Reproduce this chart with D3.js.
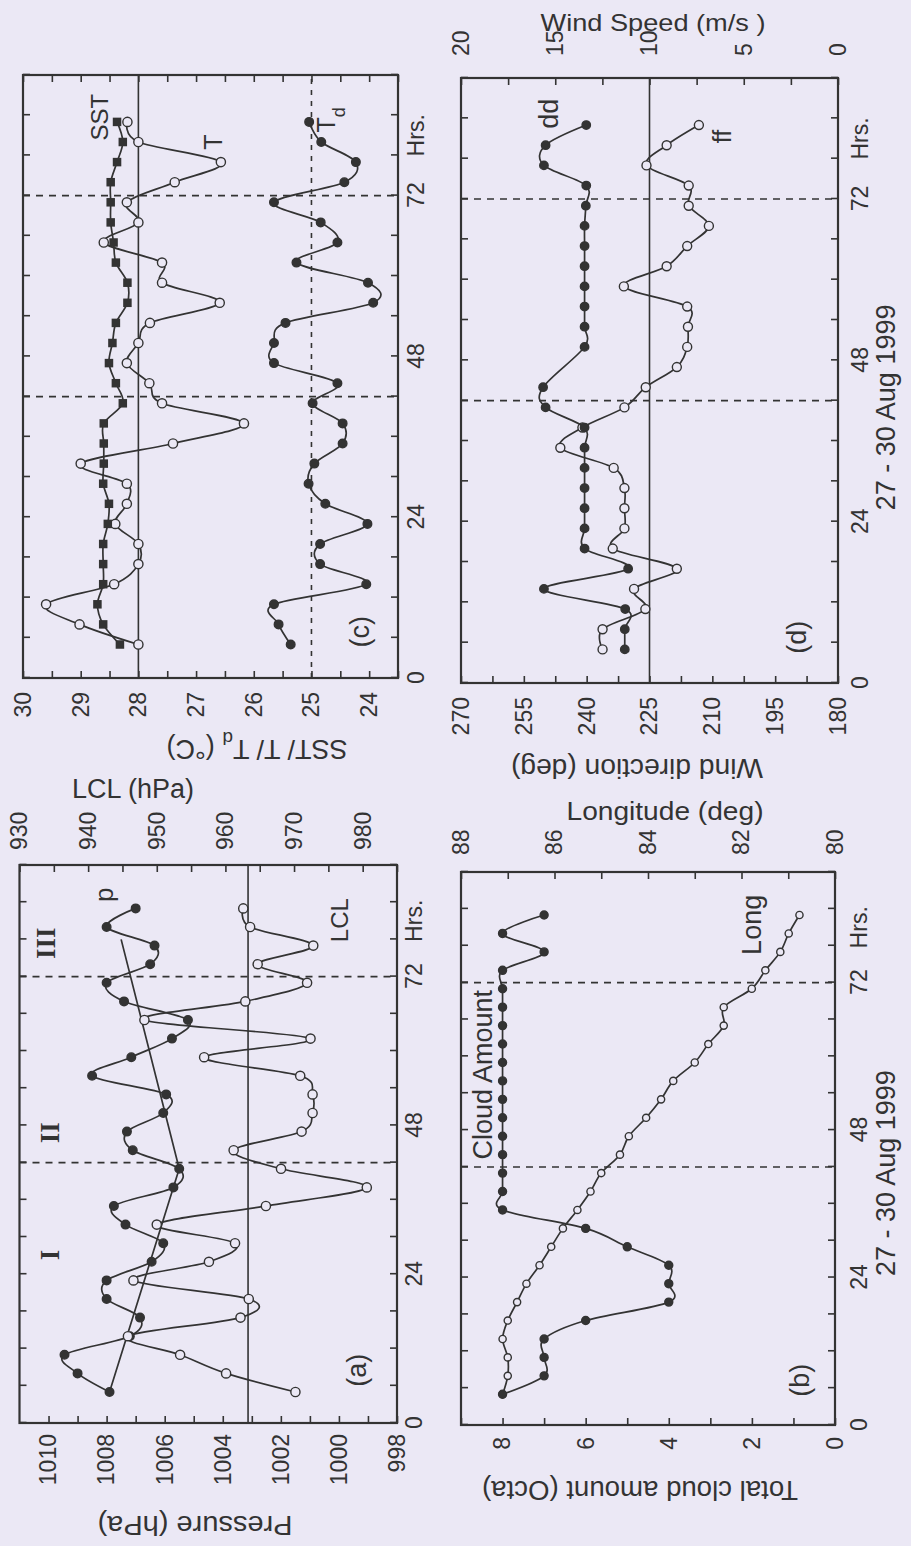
<!DOCTYPE html>
<html>
<head>
<meta charset="utf-8">
<script src="https://cdn.jsdelivr.net/npm/d3@7"></script>
<style>
  body { margin: 0; background: #ebe8f5; }
  svg { display: block; }
  text { font-family: "Liberation Sans", Arial, sans-serif; fill: #333; }
  .axis text { font-family: "Liberation Sans", Arial, sans-serif; font-size: 23px; fill: #333; }
  .axis line { stroke: #333; stroke-width: 1.6; }
  .axis .domain { display: none; }
</style>
</head>
<body>
<div id="chart"></div>
<script>
// 3-hourly observations, hours from the start of 27 Aug 1999
const hours = [5, 8, 11, 14, 17, 20, 23, 26, 29, 32, 35, 38, 41, 44, 47, 50, 53, 56, 59, 62, 65, 68, 71, 74, 77, 80, 83];

// (a) surface pressure and lifting condensation level (hPa)
const pressure = [1007.9, 1009.0, 1009.45, 1007.2, 1006.85, 1008.0, 1008.0, 1006.45, 1006.05, 1007.35, 1007.75, 1005.7, 1005.5,
  1007.1, 1007.3, 1006.05, 1005.95, 1008.5, 1007.15, 1005.75, 1005.2, 1007.4, 1008.0, 1006.5, 1006.35, 1008.0, 1007.0];
const lcl = [970.2, 960.1, 953.4, 945.8, 962.2, 963.4, 946.6, 957.6, 961.4, 950.0, 965.9, 980.6, 968.1,
  961.2, 971.1, 972.7, 972.7, 970.9, 956.9, 972.4, 948.2, 962.9, 971.9, 964.7, 972.8, 963.6, 962.6];
const trendHours = [5, 41, 78];
const trendPressure = [1007.9, 1005.5, 1007.5];
const lclMean = 963.3;

// (b) total cloud amount (octa) and ship longitude (deg E)
const cloud = [8, 7, 7, 7, 6, 4, 4, 4, 5, 6, 8, 8, 8, 8, 8, 8, 8, 8, 8, 8, 8, 8, 8, 8, 7, 8, 7];
const longitude = [87.11, 87.0, 87.0, 87.11, 87.0, 86.8, 86.6, 86.32, 86.07, 85.82, 85.51, 85.23, 85.0,
  84.6, 84.41, 84.04, 83.72, 83.46, 83.0, 82.71, 82.38, 82.38, 81.78, 81.49, 81.17, 80.99, 80.76];

// (c) SST, air temperature, dew point (deg C)
const sst = [28.32, 28.61, 28.71, 28.61, 28.61, 28.61, 28.53, 28.51, 28.61, 28.6, 28.6, 28.6, 28.27,
  28.39, 28.51, 28.45, 28.39, 28.19, 28.19, 28.39, 28.43, 28.48, 28.48, 28.48, 28.37, 28.27, 28.37];
const airTemp = [28.0, 29.02, 29.6, 28.42, 28.0, 28.0, 28.4, 28.2, 28.2, 29.0, 27.4, 26.17, 27.59,
  27.81, 28.2, 28.0, 27.8, 26.59, 27.59, 27.59, 28.6, 28.0, 28.2, 27.37, 26.57, 28.0, 28.19];
const dewPoint = [25.36, 25.57, 25.65, 24.05, 24.85, 24.85, 24.03, 24.76, 25.05, 24.95, 24.46, 24.46, 24.98,
  24.55, 25.65, 25.65, 25.45, 23.93, 24.02, 25.26, 24.55, 24.84, 25.65, 24.43, 24.23, 24.83, 25.04];
const tempRefs = [28, 25];

// (d) wind direction (deg) and wind speed (m/s)
const dirHours = [5, 8, 11, 14, 17, 20, 23, 26, 29, 32, 35, 38, 41, 44, 50, 53, 56, 59, 62, 65, 68, 71, 74, 77, 80, 83];
const windDir = [230.9, 230.9, 230.8, 250.2, 230.1, 240.5, 240.5, 240.5, 240.5, 240.5, 240.5, 240.5, 249.8,
  250.4, 240.5, 240.5, 240.5, 240.5, 240.5, 240.5, 240.5, 240.2, 240.1, 250.2, 249.8, 240.1];
const windSpeed = [12.49, 12.49, 10.22, 10.82, 8.55, 11.95, 11.33, 11.33, 11.33, 11.9, 14.73, 13.56, 11.33,
  10.2, 8.55, 8.0, 7.96, 8.0, 11.36, 9.09, 8.0, 6.85, 7.92, 7.92, 10.16, 9.09, 7.38];
const dirRef = 225;

// axes
const timeTicks = d3.range(0, 91, 6);
const timeLabels = [0, 24, 48, 72];
const markerHours = [42, 72];
const pressureTicks = d3.range(998, 1011, 1);
const lclTicks = d3.range(930, 986, 5);
const tempTicks = d3.range(23.5, 30.01, 0.5);
const dirTicks = d3.range(180, 270.1, 7.5);
const speedTicks = d3.range(0, 20.1, 2.5);
const cloudTicks = d3.range(0, 10, 1);
const lonTicks = d3.range(80, 89, 1);

const ink = "#333";
const paper = "#ebe8f5";
const tickLen = 7;
const smooth = d3.curveCardinal.tension(0);

// panel frames in the landscape layout (x = time direction)
const boxA = { x0: 123, x1: 681, y0: 19.5, y1: 397, pad: 9 };
const boxB = { x0: 121, x1: 674, y0: 461, y1: 835, pad: 16 };
const boxC = { x0: 868, x1: 1471, y0: 23, y1: 398, pad: 10 };
const boxD = { x0: 863, x1: 1468, y0: 461, y1: 838, pad: 14 };

const svg = d3.select("#chart").append("svg")
  .attr("width", 911)
  .attr("height", 1546);
svg.append("rect").attr("width", 911).attr("height", 1546).attr("fill", paper);

// figure is drawn landscape (1546 x 911) then turned a quarter turn anticlockwise
const fig = svg.append("g").attr("transform", "translate(0,1546) rotate(-90)");

const setupPanel = (p) => {
  const g = fig.append("g");
  const t = d3.scaleLinear().domain([0, 90]).range([p.x0, p.x1]);
  g.append("g").attr("class", "axis").attr("transform", `translate(0,${p.y1})`)
    .call(d3.axisBottom(t).tickValues(timeTicks).tickSize(-tickLen).tickPadding(p.pad)
      .tickFormat(d => timeLabels.includes(d) ? String(d) : ""));
  g.append("g").attr("class", "axis").attr("transform", `translate(0,${p.y0})`)
    .call(d3.axisTop(t).tickValues(timeTicks).tickSize(-tickLen).tickFormat(""));
  g.append("text")
    .attr("x", t(81)).attr("y", p.y1 + p.pad).attr("dy", "0.71em")
    .attr("text-anchor", "middle").style("font-size", "23px")
    .text("Hrs.");
  markerHours.forEach(h => {
    g.append("line")
      .attr("x1", t(h)).attr("x2", t(h)).attr("y1", p.y0).attr("y2", p.y1)
      .attr("stroke", ink).attr("stroke-width", 1.6).attr("stroke-dasharray", "7,6");
  });
  return { g, t };
};

const valueAxis = (g, p, scale, ticks, showLabel, side, pad) => {
  const make = side === "left" ? d3.axisLeft : d3.axisRight;
  g.append("g").attr("class", "axis")
    .attr("transform", `translate(${side === "left" ? p.x0 : p.x1},0)`)
    .call(make(scale).tickValues(ticks).tickSize(-tickLen).tickPadding(pad)
      .tickFormat(d => showLabel(d) ? String(d) : ""));
};

const refLine = (g, p, yPos, dash) => {
  g.append("line")
    .attr("x1", p.x0).attr("x2", p.x1).attr("y1", yPos).attr("y2", yPos)
    .attr("stroke", ink).attr("stroke-width", 1.6)
    .attr("stroke-dasharray", dash || null);
};

const drawSeries = (g, t, y, hrs, vals, kind, size, curve) => {
  const pts = hrs.map((h, i) => [t(h), y(vals[i])]);
  g.append("path")
    .attr("d", d3.line().curve(curve || smooth)(pts))
    .attr("fill", "none").attr("stroke", ink).attr("stroke-width", 1.7);
  if (kind === "none") return;
  if (kind === "square") {
    g.selectAll(null).data(pts).join("rect")
      .attr("x", d => d[0] - size / 2).attr("y", d => d[1] - size / 2)
      .attr("width", size).attr("height", size).attr("fill", ink);
  } else {
    g.selectAll(null).data(pts).join("circle")
      .attr("cx", d => d[0]).attr("cy", d => d[1]).attr("r", size)
      .attr("fill", kind === "dot" ? ink : paper)
      .attr("stroke", ink).attr("stroke-width", 1.4);
  }
};

const frame = (g, p) => {
  g.append("rect")
    .attr("x", p.x0).attr("y", p.y0).attr("width", p.x1 - p.x0).attr("height", p.y1 - p.y0)
    .attr("fill", "none").attr("stroke", ink).attr("stroke-width", 2.2);
};

const note = (g, x, y, txt, size, family, weight) => {
  return g.append("text")
    .attr("x", x).attr("y", y).attr("dy", "0.35em")
    .attr("text-anchor", "middle")
    .style("font-size", size + "px")
    .style("font-family", family || null)
    .style("font-weight", weight || null)
    .text(txt);
};

// axis titles; width is the measured length of the title on the page
const title = (x, y, angle, txt, size, width) => {
  const el = fig.append("text")
    .attr("transform", `translate(${x},${y}) rotate(${angle})`)
    .attr("dy", "0.35em").attr("text-anchor", "middle")
    .style("font-size", (size || 27) + "px")
    .text(txt);
  if (width) el.attr("textLength", width).attr("lengthAdjust", "spacingAndGlyphs");
  return el;
};

// ---- (a) pressure / LCL
{
  const { g, t } = setupPanel(boxA);
  const yP = d3.scaleLinear().domain([998, 1011]).range([boxA.y1, boxA.y0]);
  const yL = d3.scaleLinear().domain([930, 985]).range([boxA.y0, boxA.y1]);
  valueAxis(g, boxA, yP, pressureTicks, d => d % 2 === 0, "left", 11);
  valueAxis(g, boxA, yL, lclTicks, d => d % 10 === 0, "right", 15);
  refLine(g, boxA, yL(lclMean));
  drawSeries(g, t, yP, trendHours, trendPressure, "none", 0, d3.curveLinear);
  drawSeries(g, t, yP, hours, pressure, "dot", 4.3);
  drawSeries(g, t, yL, hours, lcl, "ring", 4.6);
  frame(g, boxA);
  const serif = '"Liberation Serif", "Times New Roman", serif';
  note(g, t(27.1), 50, "I", 27, serif, "bold");
  note(g, t(46.8), 50, "II", 27, serif, "bold");
  note(g, t(77.4), 46, "III", 27, serif, "bold");
  note(g, t(85.2), 104, "p", 26);
  note(g, t(81.1), 340, "LCL", 24);
  note(g, t(8.5), 357, "(a)", 27);
  title(21, 195, -90, "Pressure (hPa)", 27, 195);
  title(757, 133, 90, "LCL (hPa)", 27, 122);
}

// ---- (b) cloud amount / longitude
{
  const { g, t } = setupPanel(boxB);
  const yC = d3.scaleLinear().domain([0, 9]).range([boxB.y1, boxB.y0]);
  const yLon = d3.scaleLinear().domain([80, 88]).range([boxB.y1, boxB.y0]);
  valueAxis(g, boxB, yC, cloudTicks, d => d % 2 === 0 && d <= 8, "left", 12);
  valueAxis(g, boxB, yLon, lonTicks, d => d % 2 === 0, "right", 17);
  drawSeries(g, t, yLon, hours, longitude, "ring", 3.6);
  drawSeries(g, t, yC, hours, cloud, "dot", 4);
  frame(g, boxB);
  note(g, t(57), 483, "Cloud Amount", 27);
  note(g, t(81.4), 752, "Long", 27);
  note(g, t(7.3), 800, "(b)", 27);
  note(g, t(41), 886, "27 - 30 Aug 1999", 27);
  title(56, 640, -90, "Total cloud amount (Octa)", 27, 316);
  title(735, 665, 90, "Longitude (deg)", 25.5, 197);
}

// ---- (c) SST / T / Td
{
  const { g, t } = setupPanel(boxC);
  const yT = d3.scaleLinear().domain([23.5, 30]).range([boxC.y1, boxC.y0]);
  valueAxis(g, boxC, yT, tempTicks, d => Number.isInteger(d), "left", 14);
  valueAxis(g, boxC, yT, tempTicks, () => false, "right", 10);
  refLine(g, boxC, yT(tempRefs[0]));
  refLine(g, boxC, yT(tempRefs[1]), "5,6");
  drawSeries(g, t, yT, hours, airTemp, "ring", 4.6);
  drawSeries(g, t, yT, hours, sst, "square", 8.5);
  drawSeries(g, t, yT, hours, dewPoint, "dot", 4.3);
  frame(g, boxC);
  note(g, t(83.7), 100, "SST", 24);
  note(g, t(80), 213, "T", 25);
  const td = note(g, t(83.3), 326, "T", 25);
  td.append("tspan").attr("dy", "10px").style("font-size", "18px").text("d");
  note(g, t(6.9), 360, "(c)", 27);
  const tt = title(797, 257, -90, "SST/ T/ T");
  tt.append("tspan").attr("dy", "8px").style("font-size", "19px").text("d");
  tt.append("tspan").attr("dy", "-8px").text(" (°C)");
}

// ---- (d) wind direction / speed
{
  const { g, t } = setupPanel(boxD);
  const yDir = d3.scaleLinear().domain([180, 270]).range([boxD.y1, boxD.y0]);
  const ySpd = d3.scaleLinear().domain([0, 20]).range([boxD.y1, boxD.y0]);
  valueAxis(g, boxD, yDir, dirTicks, d => d % 15 === 0, "left", 14);
  valueAxis(g, boxD, ySpd, speedTicks, d => d % 5 === 0, "right", 22);
  refLine(g, boxD, yDir(dirRef));
  drawSeries(g, t, ySpd, hours, windSpeed, "ring", 4.5);
  drawSeries(g, t, yDir, dirHours, windDir, "dot", 4.2);
  frame(g, boxD);
  note(g, t(84.7), 549, "dd", 27);
  note(g, t(81.3), 722, "ff", 25);
  note(g, t(6.8), 797, "(d)", 27);
  note(g, t(41), 886, "27 - 30 Aug 1999", 27);
  title(778, 637, -90, "Wind direction (deg)", 27, 252);
  title(1523, 653, 90, "Wind Speed (m/s )", 24, 225);
}
</script>
</body>
</html>
